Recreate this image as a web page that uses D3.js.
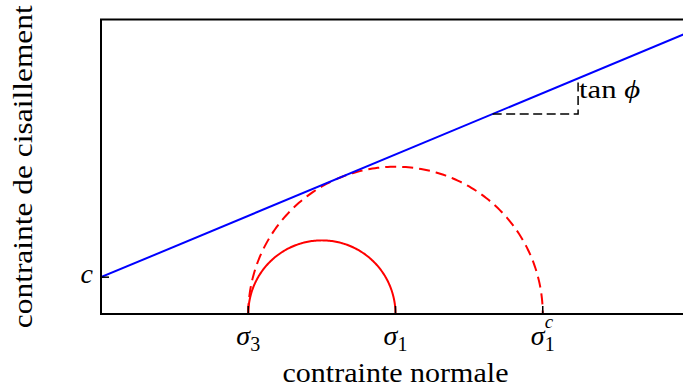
<!DOCTYPE html>
<html>
<head>
<meta charset="utf-8">
<script src="https://cdn.jsdelivr.net/npm/d3@7"></script>
<style>
  body { margin: 0; background: #fff; }
  svg text { font-family: "Liberation Serif", "DejaVu Serif", serif; fill: #000; }
</style>
</head>
<body>
<div id="chart"></div>
<script>
// Mohr-Coulomb sketch: two Mohr circles and the failure envelope

var width = 683
var height = 390

// data
var xDomain = [0, 4]
var yDomain = [0, 2]
var tickValues = [1, 2, 3]
var tickNames = ['\u03c3', '\u03c3', '\u03c3']
var tickSubs = ['3', '1', '1']
var tickSups = ['', '', 'c']
var cohesion = 0.25
var tanPhi = 5 / 12
// each circle: [sigma3, sigma1]
var mohrCircles = [[1, 2], [1, 3]]
// slope triangle corners along x
var triangleX = [2.66, 3.24]

var m = { left: 101, top: 19.5, right: 690, bottom: 314 }

var x = d3.scaleLinear().domain(xDomain).range([m.left, m.right])
var y = d3.scaleLinear().domain(yDomain).range([m.bottom, m.top])

var svg = d3.select('#chart').append('svg')
    .attr('width', width)
    .attr('height', height)

svg.append('defs').append('clipPath')
    .attr('id', 'plotclip')
  .append('rect')
    .attr('x', m.left).attr('y', m.top)
    .attr('width', m.right - m.left).attr('height', m.bottom - m.top)

var plot = svg.append('g').attr('clip-path', 'url(#plotclip)')

function envelope (s) { return cohesion + tanPhi * s }

var line = d3.line()
    .x(function (d) { return x(d[0]) })
    .y(function (d) { return y(d[1]) })

// circles (half, above the axis)
mohrCircles.forEach(function (c, i) {
  var center = (c[0] + c[1]) / 2
  var r = (c[1] - c[0]) / 2
  var pts = d3.range(0, 181).map(function (a) {
    var t = a * Math.PI / 180
    return [center - r * Math.cos(t), r * Math.sin(t)]
  })
  plot.append('path')
      .attr('d', line(pts))
      .attr('fill', 'none')
      .attr('stroke', '#ff0000')
      .attr('stroke-width', 2)
      .attr('stroke-dasharray', i === 1 ? '11,6' : null)
})

// failure envelope
plot.append('path')
    .attr('d', line([[xDomain[0], envelope(xDomain[0])], [xDomain[1], envelope(xDomain[1])]]))
    .attr('fill', 'none')
    .attr('stroke', '#0000ff')
    .attr('stroke-width', 2)

// slope triangle
plot.append('path')
    .attr('d', line([[triangleX[0], envelope(triangleX[0])],
                     [triangleX[1], envelope(triangleX[0])],
                     [triangleX[1], envelope(triangleX[1])]]))
    .attr('fill', 'none')
    .attr('stroke', '#000')
    .attr('stroke-width', 1.5)
    .attr('stroke-dasharray', '9,4.5')

var tanLabel = svg.append('text')
    .attr('x', x(triangleX[1]) + 1)
    .attr('y', y(envelope(triangleX[1])) + 20)
    .attr('textLength', 61)
    .attr('lengthAdjust', 'spacingAndGlyphs')
    .style('font-size', '25px')
tanLabel.append('tspan').text('tan ')
tanLabel.append('tspan').style('font-style', 'italic').text('\u03d5')

// ticks, pointing inward
var ticks = svg.append('g')
ticks.selectAll('line.xt')
    .data(tickValues)
  .enter().append('line')
    .attr('x1', d => x(d)).attr('x2', d => x(d))
    .attr('y1', m.bottom).attr('y2', m.bottom - 8)
    .attr('stroke', '#000').attr('stroke-width', 1.5)
ticks.append('line')
    .attr('x1', m.left).attr('x2', m.left + 8)
    .attr('y1', y(cohesion)).attr('y2', y(cohesion))
    .attr('stroke', '#000').attr('stroke-width', 1.5)

// frame
svg.append('rect')
    .attr('x', m.left).attr('y', m.top)
    .attr('width', m.right - m.left).attr('height', m.bottom - m.top)
    .attr('fill', 'none')
    .attr('stroke', '#000')
    .attr('stroke-width', 2)

// tick labels
var tl = svg.selectAll('text.xlab')
    .data(tickValues)
  .enter().append('text')
    .attr('class', 'xlab')
    .attr('x', d => x(d))
    .attr('y', 345)
    .attr('text-anchor', 'middle')
    .style('font-size', '28px')
tl.append('tspan').style('font-style', 'italic').text((d, i) => tickNames[i])
tl.append('tspan')
    .attr('dy', 6)
    .style('font-size', '20px')
    .text((d, i) => tickSubs[i])
tl.filter((d, i) => tickSups[i] !== '')
  .append('tspan')
    .attr('dx', -10)
    .attr('dy', -23)
    .style('font-size', '19px')
    .style('font-style', 'italic')
    .text(d => tickSups[tickValues.indexOf(d)])

svg.append('text')
    .attr('x', m.left - 8)
    .attr('y', y(cohesion) + 6)
    .attr('text-anchor', 'end')
    .style('font-size', '28px')
    .style('font-style', 'italic')
    .text('c')

// axis titles
svg.append('text')
    .attr('x', (m.left + m.right) / 2)
    .attr('y', 382)
    .attr('text-anchor', 'middle')
    .attr('textLength', 226)
    .attr('lengthAdjust', 'spacingAndGlyphs')
    .style('font-size', '27px')
    .text('contrainte normale')

svg.append('text')
    .attr('transform', 'translate(' + 32 + ',' + (m.top + m.bottom) / 2 + ') rotate(-90)')
    .attr('text-anchor', 'middle')
    .attr('textLength', 323)
    .attr('lengthAdjust', 'spacingAndGlyphs')
    .style('font-size', '27px')
    .text('contrainte de cisaillement')
</script>
</body>
</html>
